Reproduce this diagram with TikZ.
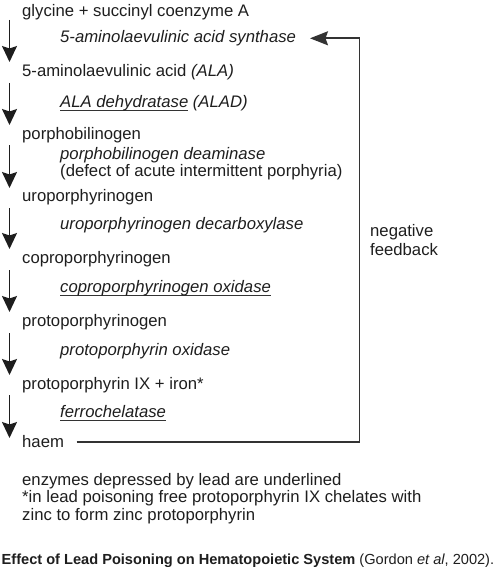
\documentclass[tikz,border=0pt]{standalone}
\usepackage{fontspec}
\setmainfont{Liberation Sans}
\usetikzlibrary{arrows.meta}
\definecolor{ink}{HTML}{1E1E1E}
\definecolor{lin}{HTML}{333333}
\newcommand\ulx[1]{\setbox0\hbox{#1}\rlap{\color{lin}\rule[-3.6pt]{\wd0}{0.9pt}}\box0\relax}
\tikzset{
  txt/.style={anchor=base west, inner sep=0pt, text=ink, font=\fontsize{16.7}{17}\selectfont},
  enz/.style={txt, font=\fontsize{16.7}{17}\selectfont\itshape},
  captxt/.style={anchor=base west, inner sep=0pt, text=ink, font=\fontsize{14.6}{17}\selectfont},
  stepar/.style={draw=ink, line width=1.7pt, -{Stealth[length=16pt, width=15pt, inset=2.5pt]}},
  fbline/.style={draw=lin, line width=1.6pt},
}
\begin{document}
\begin{tikzpicture}[x=1pt, y=-1pt]
\useasboundingbox (0,0) rectangle (498,567);
% substrates
\node[txt] (s1) at (22,17) {glycine + succinyl coenzyme A};
\node[txt] (s2) at (22,77) {5-aminolaevulinic acid \textit{(ALA)}};
\node[txt] (s3) at (22,139.5) {porphobilinogen};
\node[txt] (s4) at (22,201.5) {uroporphyrinogen};
\node[txt] (s5) at (22,263.5) {coproporphyrinogen};
\node[txt] (s6) at (22,326.5) {protoporphyrinogen};
\node[txt] (s7) at (22,389) {protoporphyrin IX + iron*};
\node[txt] (s8) at (22,447) {haem};
% enzymes
\node[enz] (e1) at (60,42.5) {5-aminolaevulinic acid synthase};
\node[enz] (e2) at (60,107) {\ulx{ALA dehydratase} (ALAD)};
\node[enz] (e3) at (60,159.5) {porphobilinogen deaminase};
\node[txt] (e3b) at (60,176.7) {(defect of acute intermittent porphyria)};
\node[enz] (e4) at (60,229.5) {uroporphyrinogen decarboxylase};
\node[enz] (e5) at (60,292) {\ulx{coproporphyrinogen oxidase}};
\node[enz] (e6) at (60,355) {protoporphyrin oxidase};
\node[enz] (e7) at (60,417) {\ulx{ferrochelatase}};
% step arrows
\coordinate (a1t) at (9.5,20);  \coordinate (a1b) at (9.5,62);
\coordinate (a2t) at (9.5,83);  \coordinate (a2b) at (9.5,125);
\coordinate (a3t) at (9.5,145); \coordinate (a3b) at (9.5,188);
\coordinate (a4t) at (9.5,208); \coordinate (a4b) at (9.5,249);
\coordinate (a5t) at (9.5,270); \coordinate (a5b) at (9.5,312);
\coordinate (a6t) at (9.5,333); \coordinate (a6b) at (9.5,375);
\coordinate (a7t) at (9.5,395); \coordinate (a7b) at (9.5,438);
\foreach \i in {1,...,7} {\draw[stepar] (a\i t) -- (a\i b);}
% negative feedback
\coordinate (fb0) at (76.5,442);
\coordinate (fb1) at (359.5,442);
\coordinate (fb2) at (359.5,38.3);
\coordinate (fb3) at (310,38.3);
\draw[fbline] (fb0) -- (fb1) -- (fb2);
\draw[fbline, -{Stealth[length=18pt, width=14pt, inset=2.5pt]}] (fb2) -- (fb3);
\node[txt] (nf1) at (370,236) {negative};
\node[txt] (nf2) at (370,255) {feedback};
% notes
\node[txt] (n1) at (22,485) {enzymes depressed by lead are underlined};
\node[txt] (n2) at (22,502.7) {*in lead poisoning free protoporphyrin IX chelates with};
\node[txt] (n3) at (22,520) {zinc to form zinc protoporphyrin};
% caption
\node[captxt] (c1) at (1.5,564) {\textbf{Effect of Lead Poisoning on Hematopoietic System} (Gordon \textit{et al}, 2002).};
\end{tikzpicture}
\end{document}
